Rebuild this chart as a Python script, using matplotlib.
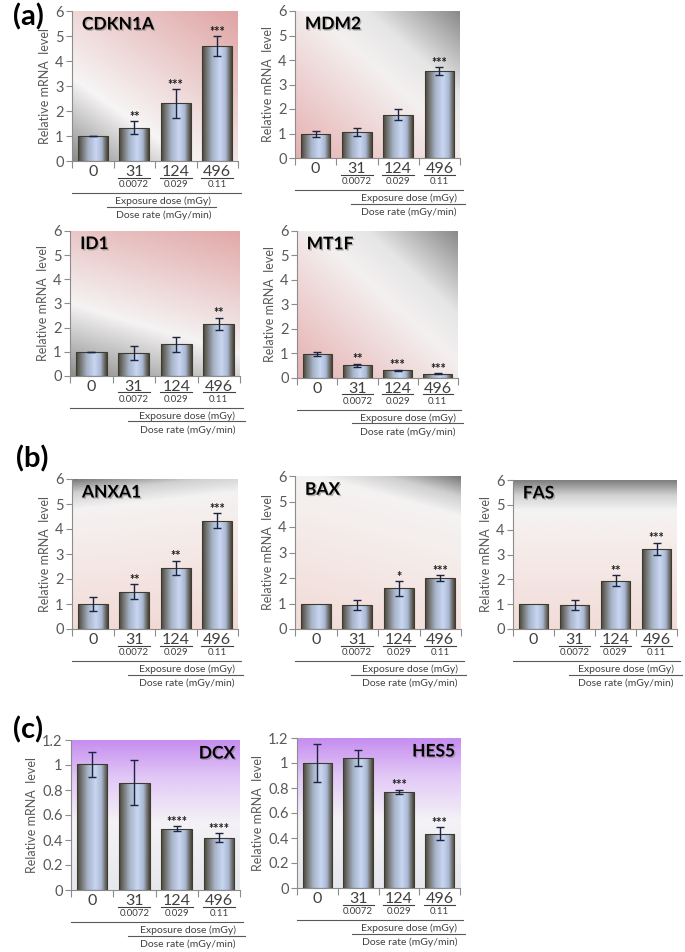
import numpy as np
import matplotlib.pyplot as plt
import matplotlib.transforms as mtransforms
import matplotlib.patheffects as pe
from matplotlib.colors import LinearSegmentedColormap
from matplotlib.lines import Line2D

plt.rcParams['font.family'] = ['Lato', 'DejaVu Sans']

W, H = 685, 952
fig = plt.figure(figsize=(W / 100, H / 100), dpi=100)

# data
doses = ['0', '31', '124', '496']
rates = ['', '0.0072', '0.029', '0.11']

cdkn1a_mean = [1.0, 1.34, 2.31, 4.60]
cdkn1a_err = [0.01, 0.27, 0.58, 0.40]
cdkn1a_sig = ['', '**', '***', '***']

mdm2_mean = [0.98, 1.05, 1.76, 3.56]
mdm2_err = [0.13, 0.17, 0.22, 0.16]
mdm2_sig = ['', '', '', '***']

id1_mean = [1.0, 0.94, 1.31, 2.17]
id1_err = [0.01, 0.29, 0.32, 0.25]
id1_sig = ['', '', '', '**']

mt1f_mean = [0.98, 0.52, 0.31, 0.18]
mt1f_err = [0.09, 0.07, 0.03, 0.03]
mt1f_sig = ['', '**', '***', '***']

anxa1_mean = [1.01, 1.50, 2.45, 4.34]
anxa1_err = [0.29, 0.31, 0.29, 0.29]
anxa1_sig = ['', '**', '**', '***']

bax_mean = [0.99, 0.95, 1.59, 2.00]
bax_err = [0.0, 0.20, 0.30, 0.12]
bax_sig = ['', '', '*', '***']

fas_mean = [1.0, 0.96, 1.95, 3.24]
fas_err = [0.0, 0.19, 0.21, 0.24]
fas_sig = ['', '', '**', '***']

dcx_mean = [1.005, 0.86, 0.49, 0.42]
dcx_err = [0.10, 0.18, 0.02, 0.033]
dcx_sig = ['', '', '****', '****']

hes5_mean = [1.0, 1.04, 0.77, 0.435]
hes5_err = [0.15, 0.065, 0.017, 0.05]
hes5_sig = ['', '', '***', '***']

# background styles: (colour stops, x weight, y weight)
bg_up_pink = ([(0, '#8c8c8c'), (0.31, '#f7f5f5'), (1, '#e0a4a4')], 0.44, 0.56)
bg_id1 = ([(0, '#8e8e8e'), (0.37, '#f5f3f3'), (1, '#e2a8a8')], 0.26, 0.74)
bg_down_pink = ([(0, '#e6b0b0'), (0.55, '#f4f0f0'), (0.72, '#e6e6e6'), (1, '#8a8a8a')], 0.5, 0.5)
bg_anxa1 = ([(0, '#f1d8d4'), (0.6, '#f5ecea'), (0.82, '#f4f2f2'), (0.92, '#d0d0d0'), (1, '#7a7a7a')], -0.12, 1.0)
bg_bax = ([(0, '#f2dad6'), (0.6, '#f5eeec'), (0.8, '#f4f2f2'), (0.9, '#cfcfcf'), (1, '#7a7a7a')], 0.3, 1.0)
bg_fas = ([(0, '#f2dcd8'), (0.55, '#f5ecea'), (0.8, '#f5f3f3'), (0.9, '#d2d2d2'), (1, '#808080')], 0.0, 1.0)
bg_purple = ([(0, '#e6e8ee'), (0.45, '#f4f2f6'), (0.75, '#e2c8f6'), (1, '#c68ef0')], 0.0, 1.0)

bar_cmap = LinearSegmentedColormap.from_list('bar', [
    (0, '#48453a'), (0.12, '#6e6e6a'), (0.35, '#a8b4c8'), (0.6, '#c8d6f2'),
    (0.8, '#aab8d4'), (0.92, '#6e6e6a'), (1, '#48453a')])

GRAY = '#595959'


def off_data(ax, dy):
    t = mtransforms.blended_transform_factory(ax.transData, ax.transAxes)
    return t + mtransforms.ScaledTranslation(0, -dy / 100, fig.dpi_scale_trans)


def off_axes(ax, dy):
    return ax.transAxes + mtransforms.ScaledTranslation(0, -dy / 100, fig.dpi_scale_trans)


def panel(box, name, mean, err, sig, bg, ymax, name_right=False, exp_x=(0.69, 0.34, 1.03)):
    l, t, r, b = box
    ax = fig.add_axes([l / W, 1 - b / H, (r - l) / W, (b - t) / H])
    x = np.arange(len(mean))

    # background gradient
    stops, wx, wy = bg
    xx, yy = np.meshgrid(np.linspace(0, 1, 200), np.linspace(0, 1, 200))
    g = wx * xx + wy * yy
    g = (g - g.min()) / (g.max() - g.min())
    ax.imshow(g, cmap=LinearSegmentedColormap.from_list('bg', stops), extent=[0, 1, 0, 1],
              origin='lower', transform=ax.transAxes, aspect='auto', zorder=0)

    bars = ax.bar(x, mean, width=0.72, facecolor='none', edgecolor='#3e3b31', lw=0.8, zorder=3)
    grad = np.linspace(0, 1, 64).reshape(1, -1)
    for bar in bars:
        x0 = bar.get_x()
        im = ax.imshow(grad, cmap=bar_cmap, extent=[x0, x0 + bar.get_width(), 0, bar.get_height()],
                       aspect='auto', zorder=2)
        im.set_clip_path(bar)

    err = np.array(err)
    mean = np.array(mean)
    m = err > 0
    ax.errorbar(x[m], mean[m], yerr=err[m], fmt='none', ecolor='#1c2540', elinewidth=1,
                capsize=3, capthick=1, zorder=4)
    for i, s in enumerate(sig):
        if s:
            ax.text(x[i], mean[i] + err[i] - ymax * 0.012, s, ha='center', va='bottom',
                    fontsize=9, fontweight='bold', color='#1a1a1a', zorder=5)

    ax.set_xlim(-0.5, len(mean) - 0.5)
    ax.set_ylim(0, ymax)
    if ymax > 2:
        ax.set_yticks(np.arange(0, ymax + 0.1, 1))
    else:
        ax.set_yticks(np.round(np.arange(0, ymax + 0.01, 0.2), 1))
        ax.set_yticklabels(['%g' % v for v in np.round(np.arange(0, ymax + 0.01, 0.2), 1)])
    ax.set_xticks(np.arange(-0.5, len(mean)))
    ax.set_xticklabels([])
    ax.tick_params(axis='both', direction='out', length=4, color='#8c8c8c', width=0.8,
                   labelsize=10.5, labelcolor=GRAY, pad=2)
    ax.tick_params(axis='x', length=5)
    for s in ['top', 'right']:
        ax.spines[s].set_visible(False)
    for s in ['left', 'bottom']:
        ax.spines[s].set_color('#8c8c8c')
        ax.spines[s].set_linewidth(0.8)
    ax.set_ylabel('Relative mRNA  level', fontsize=9, color=GRAY, labelpad=3)

    shadow = [pe.withSimplePatchShadow(offset=(1, -1), shadow_rgbFace='#777777', alpha=0.5)]
    if name_right:
        ax.text(0.97, 0.91, name, transform=ax.transAxes, ha='right', va='center', fontsize=12.5,
                fontweight='bold', zorder=6, path_effects=shadow)
    else:
        ax.text(0.06, 0.91, name, transform=ax.transAxes, ha='left', va='center', fontsize=12.5,
                fontweight='bold', zorder=6, path_effects=shadow)

    # category labels below the axis
    for i in x:
        ax.text(i, 0, doses[i], transform=off_data(ax, 11), ha='center', va='center',
                fontsize=11.5, color='#404040', clip_on=False)
        if rates[i]:
            ax.add_artist(Line2D([i - 0.38, i + 0.38], [0, 0], transform=off_data(ax, 16.5),
                                 color='#404040', lw=0.8, clip_on=False))
            ax.text(i, 0, rates[i], transform=off_data(ax, 23.5), ha='center', va='center',
                    fontsize=7, color='#404040', clip_on=False)
    cx, u0, u1 = exp_x
    ax.add_artist(Line2D([0, 1.02], [0, 0], transform=off_axes(ax, 32), color=GRAY, lw=0.8, clip_on=False))
    ax.text(cx, 0, 'Exposure dose (mGy)', transform=off_axes(ax, 40), ha='center', va='center',
            fontsize=7.5, color='#404040', clip_on=False)
    ax.add_artist(Line2D([u0, u1], [0, 0], transform=off_axes(ax, 45.5), color=GRAY, lw=0.8, clip_on=False))
    ax.text(cx, 0, 'Dose rate (mGy/min)', transform=off_axes(ax, 54), ha='center', va='center',
            fontsize=7.5, color='#404040', clip_on=False)
    return ax


panel((72, 11, 238, 161), 'CDKN1A', cdkn1a_mean, cdkn1a_err, cdkn1a_sig, bg_up_pink, 6,
      exp_x=(0.55, 0.21, 0.87))
panel((295, 11, 460, 158), 'MDM2', mdm2_mean, mdm2_err, mdm2_sig, bg_down_pink, 6)
panel((70, 231, 240, 376), 'ID1', id1_mean, id1_err, id1_sig, bg_id1, 6)
panel((297, 231, 458, 378), 'MT1F', mt1f_mean, mt1f_err, mt1f_sig, bg_down_pink, 6)
panel((72, 479, 238, 629), 'ANXA1', anxa1_mean, anxa1_err, anxa1_sig, bg_anxa1, 6)
panel((295, 476, 461, 629), 'BAX', bax_mean, bax_err, bax_sig, bg_bax, 6)
panel((513, 480, 677, 629), 'FAS', fas_mean, fas_err, fas_sig, bg_fas, 6)
panel((71, 740, 240, 890), 'DCX', dcx_mean, dcx_err, dcx_sig, bg_purple, 1.2, name_right=True)
panel((297, 738, 460, 888), 'HES5', hes5_mean, hes5_err, hes5_sig, bg_purple, 1.2, name_right=True)

for lab, px, py in [('(a)', 28, 17), ('(b)', 32, 459), ('(c)', 28, 730)]:
    fig.text(px / W, 1 - py / H, lab, fontsize=21, fontweight='bold', ha='center', va='center')

fig.savefig('out.png', dpi=100)
